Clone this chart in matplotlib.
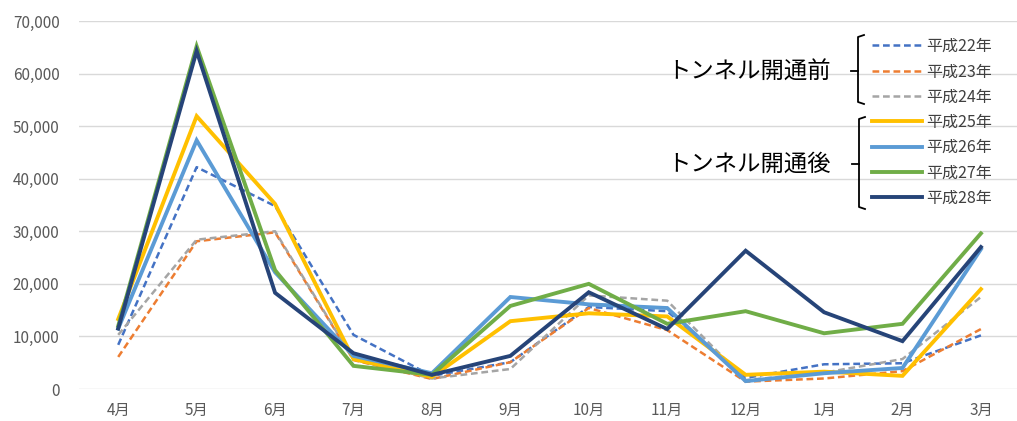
import matplotlib
matplotlib.use("Agg")
import matplotlib.pyplot as plt
from matplotlib.ticker import FuncFormatter
from matplotlib.lines import Line2D

plt.rcParams['font.family'] = ['Noto Sans CJK JP', 'DejaVu Sans']

months = ['4月', '5月', '6月', '7月', '8月', '9月', '10月', '11月', '12月', '1月', '2月', '3月']

h22 = [8400, 42200, 34800, 10300, 2500, 5100, 15600, 14800, 2100, 4700, 4900, 10200]
h23 = [6100, 28100, 29800, 5500, 1900, 5100, 15400, 11200, 1400, 2000, 3400, 11400]
h24 = [10300, 28400, 30000, 5600, 2000, 3800, 17800, 16800, 1700, 3100, 5700, 17500]
h25 = [13300, 51900, 35200, 5700, 2300, 12900, 14400, 13800, 2700, 3300, 2500, 19000]
h26 = [11500, 47300, 22200, 6300, 3000, 17500, 16100, 15400, 1500, 3000, 4000, 26600]
h27 = [12000, 65200, 22600, 4400, 2700, 15800, 20000, 12400, 14800, 10600, 12400, 29600]
h28 = [11500, 64300, 18300, 6800, 2700, 6300, 18400, 11400, 26300, 14600, 9100, 27000]

names = ['平成22年', '平成23年', '平成24年', '平成25年', '平成26年', '平成27年', '平成28年']
series = [h22, h23, h24, h25, h26, h27, h28]
colors = ['#4472C4', '#ED7D31', '#A5A5A5', '#FFC000', '#5B9BD5', '#70AD47', '#264478']

fig = plt.figure(figsize=(10.17, 4.21), dpi=100)
ax = fig.add_axes([79 / 1017, 32 / 421, (1017 - 79) / 1017, 368 / 421])

x = list(range(len(months)))
handles = []
for i, (vals, c, n) in enumerate(zip(series, colors, names)):
    if i < 3:
        ln, = ax.plot(x, vals, color=c, lw=1.8, dashes=(2.7, 1.5), label=n, zorder=3)
    else:
        ln, = ax.plot(x, vals, color=c, lw=2.8, label=n, zorder=3, solid_joinstyle='miter')
    handles.append(ln)

ax.set_xlim(-0.5, 11.46)
ax.set_ylim(0, 70000)
ax.set_yticks(range(0, 70001, 10000))
ax.yaxis.set_major_formatter(FuncFormatter(lambda v, p: f'{int(v):,}'))
ax.set_xticks(x)
ax.set_xticklabels(months)
ax.grid(axis='y', color='#D9D9D9', lw=1.0)
ax.set_axisbelow(True)
for s in ax.spines.values():
    s.set_visible(False)
ax.tick_params(axis='both', length=0, labelsize=11, colors='#595959')
ax.tick_params(axis='y', pad=14)
ax.tick_params(axis='x', pad=9)

leg = fig.legend(handles=handles, loc='upper left', bbox_to_anchor=(872 / 1017, 1 - 38 / 421),
                 frameon=False, fontsize=11.5, handlelength=3.1, handletextpad=0.3,
                 labelspacing=0.52, borderpad=0, borderaxespad=0)
for t in leg.get_texts():
    t.set_color('#404040')

# braces
def brace(x0, y0, y1, ym):
    fx = lambda px: px / 1017
    fy = lambda py: 1 - py / 421
    fig.add_artist(Line2D([fx(x0 + 6), fx(x0), fx(x0), fx(x0 + 6)],
                          [fy(y0), fy(y0 + 2), fy(y1 - 2), fy(y1)],
                          color='black', lw=1.3))
    fig.add_artist(Line2D([fx(x0 - 7), fx(x0)], [fy(ym), fy(ym)], color='black', lw=1.3))

brace(858, 35, 104, 71)
brace(859, 117, 209, 164)

fig.text(831 / 1017, 1 - 72 / 421, 'トンネル開通前', ha='right', va='center', fontsize=16.8, color='black')
fig.text(831 / 1017, 1 - 164 / 421, 'トンネル開通後', ha='right', va='center', fontsize=16.8, color='black')

fig.savefig('out.png', dpi=100)
